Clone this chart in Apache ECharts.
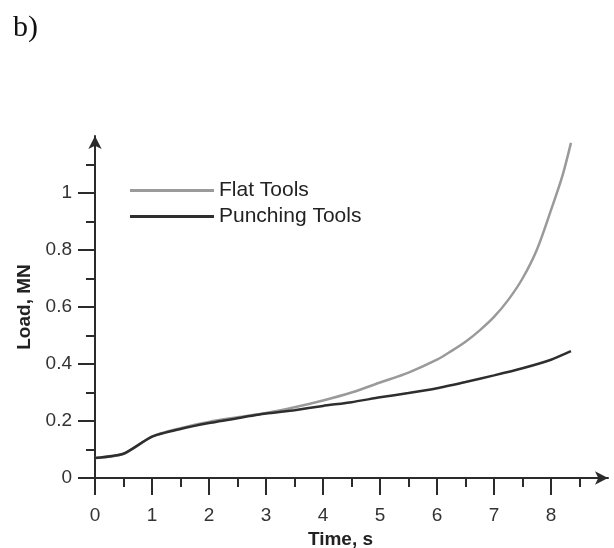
<!DOCTYPE html>
<html>
<head>
    <meta charset="UTF-8">
    <title>Load vs time</title>
    <script src="https://cdn.jsdelivr.net/npm/echarts@6/dist/echarts.min.js"></script>
    <style>
        html, body { margin: 0; padding: 0; background: #fff; }
    </style>
</head>
<body>
    <div id="main" style="width:614px;height:548px;"></div>
    <script type="text/javascript">
        // time, s
        var flatTime = [0, 0.5, 1, 1.5, 2, 2.5, 3, 3.5, 4, 4.5, 5, 5.5, 6, 6.25, 6.5, 6.75, 7, 7.25, 7.5, 7.75, 8, 8.2, 8.35];
        // load, MN
        var flatLoad = [0.07, 0.085, 0.145, 0.175, 0.197, 0.213, 0.228, 0.248, 0.272, 0.3, 0.335, 0.37, 0.415, 0.445, 0.478, 0.518, 0.565, 0.625, 0.7, 0.8, 0.94, 1.06, 1.176];

        var punchTime = [0, 0.5, 1, 1.5, 2, 2.5, 3, 3.5, 4, 4.5, 5, 5.5, 6, 6.5, 7, 7.5, 8, 8.35];
        var punchLoad = [0.07, 0.085, 0.145, 0.172, 0.193, 0.21, 0.226, 0.238, 0.253, 0.266, 0.283, 0.298, 0.315, 0.337, 0.36, 0.385, 0.415, 0.445];

        var xTicks = [0, 1, 2, 3, 4, 5, 6, 7, 8];
        var yTicks = [0, 0.2, 0.4, 0.6, 0.8, 1];

        function pairs(xs, ys) {
            var out = [];
            for (var i = 0; i < xs.length; i++) {
                out.push([xs[i], ys[i]]);
            }
            return out;
        }

        var font = 'Liberation Sans, Arial, sans-serif';
        var axisColor = '#2b2b2b';

        var myChart = echarts.init(document.getElementById('main'));

        myChart.setOption({
            animation: false,
            backgroundColor: '#fff',
            graphic: [{
                type: 'text',
                left: 13,
                top: 13,
                style: {
                    text: 'b)',
                    fontFamily: 'Liberation Serif, Times New Roman, serif',
                    fontSize: 30,
                    fill: '#111'
                }
            }],
            legend: {
                orient: 'vertical',
                left: 130,
                top: 180,
                padding: 0,
                itemWidth: 84,
                itemHeight: 3,
                itemGap: 5,
                icon: 'rect',
                textStyle: {
                    fontFamily: font,
                    fontSize: 21,
                    lineHeight: 21,
                    color: '#222'
                },
                data: ['Flat Tools', 'Punching Tools']
            },
            grid: {
                left: 95,
                right: 6,
                top: 136,
                bottom: 70,
                outerBoundsMode: 'none'
            },
            xAxis: {
                type: 'value',
                min: 0,
                max: 9,
                interval: 1,
                name: 'Time, s',
                nameLocation: 'middle',
                nameGap: 45,
                nameTextStyle: {
                    fontFamily: font,
                    fontSize: 19,
                    fontWeight: 'bold',
                    color: '#222',
                    padding: [0, 22, 0, 0]
                },
                axisLine: {
                    onZero: false,
                    symbol: ['none', 'arrow'],
                    symbolSize: [10, 13],
                    lineStyle: { color: axisColor, width: 2 }
                },
                axisTick: {
                    length: 17,
                    customValues: xTicks,
                    lineStyle: { color: axisColor, width: 2 }
                },
                minorTick: {
                    show: true,
                    splitNumber: 2,
                    length: 9,
                    lineStyle: { color: axisColor, width: 2 }
                },
                axisLabel: {
                    customValues: xTicks,
                    margin: 28,
                    fontFamily: font,
                    fontSize: 19,
                    color: '#333'
                },
                splitLine: { show: false }
            },
            yAxis: {
                type: 'value',
                min: 0,
                max: 1.2,
                interval: 0.2,
                name: 'Load, MN',
                nameLocation: 'middle',
                nameGap: 60,
                nameTextStyle: {
                    fontFamily: font,
                    fontSize: 19,
                    fontWeight: 'bold',
                    color: '#222'
                },
                axisLine: {
                    show: true,
                    onZero: false,
                    symbol: ['none', 'arrow'],
                    symbolSize: [10, 13],
                    lineStyle: { color: axisColor, width: 2 }
                },
                axisTick: {
                    show: true,
                    length: 17,
                    customValues: yTicks,
                    lineStyle: { color: axisColor, width: 2 }
                },
                minorTick: {
                    show: true,
                    splitNumber: 2,
                    length: 9,
                    lineStyle: { color: axisColor, width: 2 }
                },
                axisLabel: {
                    customValues: yTicks,
                    margin: 23,
                    fontFamily: font,
                    fontSize: 19,
                    color: '#333'
                },
                splitLine: { show: false }
            },
            series: [
                {
                    name: 'Flat Tools',
                    type: 'line',
                    data: pairs(flatTime, flatLoad),
                    smooth: 0.3,
                    showSymbol: false,
                    color: '#9a9a9a',
                    lineStyle: { color: '#9a9a9a', width: 2.5 }
                },
                {
                    name: 'Punching Tools',
                    type: 'line',
                    data: pairs(punchTime, punchLoad),
                    smooth: 0.2,
                    showSymbol: false,
                    color: '#2e2e2e',
                    lineStyle: { color: '#2e2e2e', width: 2.5 }
                }
            ]
        });
    </script>
</body>
</html>
